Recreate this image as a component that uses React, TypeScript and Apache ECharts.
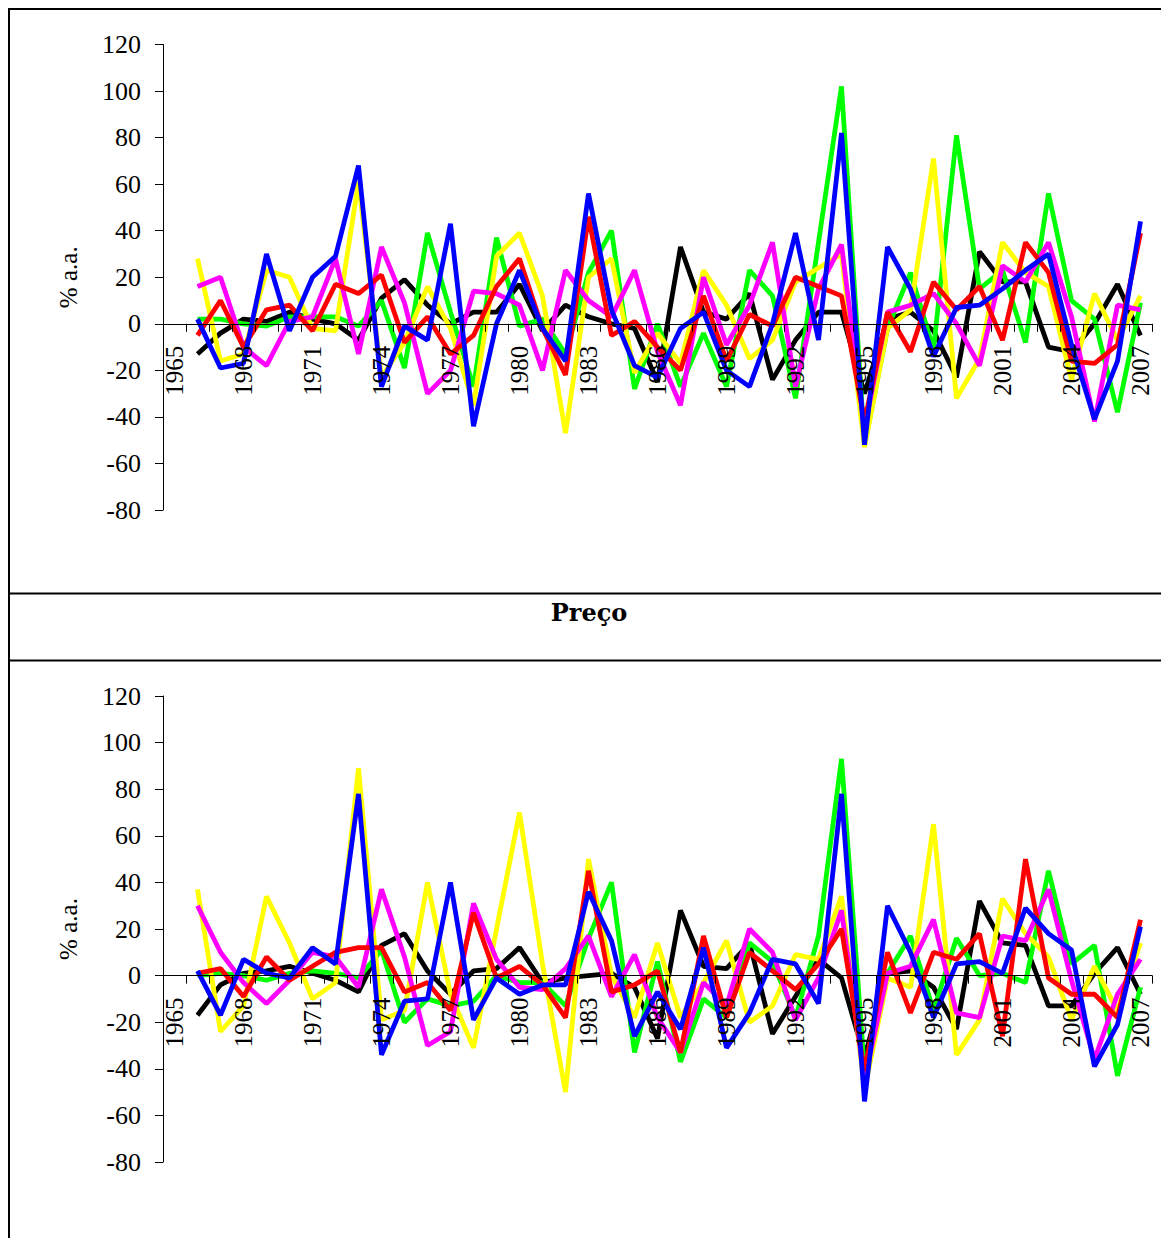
import React, { useEffect, useRef } from "react";
import * as echarts from "echarts";

const years = [
  "1965", "1966", "1967", "1968", "1969", "1970", "1971", "1972", "1973", "1974", "1975",
  "1976", "1977", "1978", "1979", "1980", "1981", "1982", "1983", "1984", "1985", "1986",
  "1987", "1988", "1989", "1990", "1991", "1992", "1993", "1994", "1995", "1996", "1997",
  "1998", "1999", "2000", "2001", "2002", "2003", "2004", "2005", "2006", "2007",
];

// Values for 1966..2007 (1965 has no data)
const topBlack = [-13, -4, 2, 1, 5, 2, 0, -7, 11, 19, 8, 0, 5, 5, 17, -3, 8, 3, 0, -2, -25, 33, 5, 2, 13, -24, -7, 5, 5, -30, 2, 5, -3, -23, 31, 18, 18, -10, -12, 0, 17, -5];
const topGreen = [2, 2, 0, -1, 3, 3, 3, -1, 10, -19, 39, 5, -27, 37, -1, 2, -13, 22, 40, -28, 0, -27, -4, -27, 23, 12, -32, 35, 102, -52, -2, 22, -11, 81, 15, 23, -8, 56, 10, 2, -38, 9];
const topYellow = [28, -16, -13, 23, 20, -2, -3, 61, -23, -8, 16, -2, -35, 29, 39, 12, -47, 20, 28, -21, -4, -17, 23, 8, -15, -7, 18, 24, 30, -53, -2, 6, 71, -32, -15, 35, 22, 16, -24, 13, -7, 12];
const topMagenta = [16, 20, -10, -18, 1, 3, 28, -13, 33, 9, -30, -20, 14, 13, 8, -20, 23, 10, 3, 23, -12, -35, 20, -9, 8, 35, -27, 15, 34, -45, 5, 8, 13, 0, -18, 25, 18, 35, 3, -42, 8, 6];
const topRed = [-5, 10, -10, 6, 8, -3, 17, 13, 21, -8, 3, -13, -5, 16, 28, -2, -22, 46, -5, 1, -10, -20, 12, -16, 4, -1, 20, 16, 12, -42, 5, -12, 18, 6, 16, -7, 35, 22, -16, -17, -9, 39];
const topBlue = [2, -19, -17, 30, -3, 20, 29, 68, -27, -1, -7, 43, -44, 0, 23, -2, -16, 56, 6, -18, -23, -2, 5, -20, -27, 0, 39, -7, 82, -52, 33, 15, -14, 7, 8, 15, 23, 30, -9, -41, -16, 44];

const botBlack = [-17, -4, 1, 2, 4, 1, -2, -7, 13, 18, 2, -8, 2, 3, 12, -3, -1, 0, 1, -5, -27, 28, 4, 3, 14, -25, -9, 7, -1, -35, 1, 2, -5, -23, 32, 14, 13, -13, -13, 1, 12, -8];
const botGreen = [0, 1, 0, -2, 1, 2, 1, -1, 11, -20, -10, -13, -11, 0, -3, -3, -13, 16, 40, -33, 6, -37, -10, -18, 14, 6, -18, 17, 93, -41, 1, 17, -15, 16, 0, 1, -3, 45, 5, 13, -43, -5];
const botYellow = [37, -24, -13, 34, 14, -10, -3, 89, -19, -15, 40, -8, -31, 20, 70, 5, -50, 50, 0, -18, 14, -18, -3, 15, -20, -13, 9, 7, 34, -49, -1, -5, 65, -34, -19, 33, 18, 8, -19, 4, -15, 14];
const botMagenta = [30, 10, -3, -12, -2, 10, 8, -5, 37, 8, -30, -24, 31, 7, -5, -6, 3, 17, -9, 9, -18, -33, -3, -13, 20, 10, -19, -1, 28, -45, 1, 4, 24, -16, -18, 17, 15, 37, -2, -36, -8, 7];
const botRed = [1, 3, -9, 8, -2, 4, 10, 12, 12, -7, -3, -15, 27, -1, 4, -4, -18, 45, -7, -4, 2, -33, 17, -18, 10, 2, -6, 5, 20, -41, 10, -16, 10, 7, 18, -26, 50, -1, -8, -8, -18, 24];
const botBlue = [2, -17, 7, 1, -1, 12, 5, 78, -34, -11, -10, 40, -19, -1, -8, -4, -4, 36, 15, -26, -7, -23, 12, -31, -16, 7, 5, -12, 78, -54, 30, 10, -18, 5, 6, 1, 29, 18, 11, -39, -21, 21];

const seriesNames = ["Série 1", "Série 2", "Série 3", "Série 4", "Série 5", "Série 6"];
const seriesColors = ["#000000", "#00ff00", "#ffff00", "#ff00ff", "#ff0000", "#0000ff"];
const yTitle = "% a.a.";
const panelTitle = "Preço";

const SERIF = "Liberation Serif";

const Y_MIN = -80;
const Y_MAX = 120;

export default function App() {
  const ref = useRef<HTMLDivElement>(null);

  useEffect(() => {
    if (!ref.current) return;
    const chart = echarts.init(ref.current, undefined, { renderer: "svg" });

    const topSets = [topBlack, topGreen, topYellow, topMagenta, topRed, topBlue];
    const botSets = [botBlack, botGreen, botYellow, botMagenta, botRed, botBlue];

    const grids = [
      { left: 163, top: 44.5, width: 989, height: 465.5 },
      { left: 163, top: 696, width: 989, height: 466 },
    ];

    // move the category axis (line, ticks, labels) up to the zero line
    const mkX = (gi: number) => ({
      type: "category",
      gridIndex: gi,
      data: years,
      boundaryGap: true,
      position: "bottom",
      offset: -grids[gi].height * ((0 - Y_MIN) / (Y_MAX - Y_MIN)),
      z: 10,
      axisLine: { onZero: false, lineStyle: { color: "#000", width: 1 } },
      axisTick: { show: true, interval: 0, length: 8, lineStyle: { color: "#000", width: 1 } },
      axisLabel: {
        interval: 2,
        rotate: 90,
        margin: 22,
        fontFamily: SERIF,
        fontSize: 25,
        color: "#000",
      },
      splitLine: { show: false },
    });

    const mkY = (gi: number) => ({
      type: "value",
      gridIndex: gi,
      min: Y_MIN,
      max: Y_MAX,
      interval: 20,
      name: yTitle,
      nameLocation: "middle",
      nameGap: 82,
      nameTextStyle: { fontFamily: SERIF, fontSize: 25, color: "#000" },
      axisLine: { show: true, lineStyle: { color: "#000", width: 1 } },
      axisTick: { show: true, length: 8, lineStyle: { color: "#000", width: 1 } },
      axisLabel: { margin: 22, fontFamily: SERIF, fontSize: 26, color: "#000" },
      splitLine: { show: false },
    });

    const series: any[] = [];
    [topSets, botSets].forEach((sets, gi) => {
      sets.forEach((vals, k) => {
        series.push({
          name: seriesNames[k],
          type: "line",
          xAxisIndex: gi,
          yAxisIndex: gi,
          data: [null, ...vals],
          symbol: "none",
          lineStyle: { color: seriesColors[k], width: 4.8 },
          itemStyle: { color: seriesColors[k] },
          z: 2,
        });
      });
    });

    chart.setOption({
      animation: false,
      backgroundColor: "#ffffff",
      grid: grids,
      xAxis: [mkX(0), mkX(1)],
      yAxis: [mkY(0), mkY(1)],
      series,
      graphic: [
        { type: "line", shape: { x1: 8, y1: 9, x2: 1161, y2: 9 }, style: { stroke: "#000", lineWidth: 2 } },
        { type: "line", shape: { x1: 9, y1: 8, x2: 9, y2: 1238 }, style: { stroke: "#000", lineWidth: 2 } },
        { type: "line", shape: { x1: 8, y1: 593.5, x2: 1161, y2: 593.5 }, style: { stroke: "#000", lineWidth: 2 } },
        { type: "line", shape: { x1: 8, y1: 660.5, x2: 1161, y2: 660.5 }, style: { stroke: "#000", lineWidth: 2 } },
        {
          type: "text",
          x: 589,
          y: 612,
          style: {
            text: panelTitle,
            fontFamily: "DejaVu Serif",
            fontWeight: "bold",
            fontSize: 24,
            fill: "#000",
            align: "center",
            verticalAlign: "middle",
          },
        },
      ],
    });

    return () => chart.dispose();
  }, []);

  return (
    <div
      ref={ref}
      style={{ position: "absolute", left: 0, top: 0, width: 1161, height: 1238 }}
    />
  );
}
